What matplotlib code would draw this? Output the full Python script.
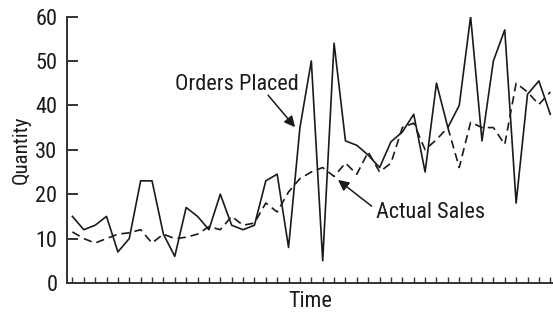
import matplotlib
matplotlib.use('Agg')
import matplotlib.pyplot as plt
from matplotlib import font_manager
import numpy as np

# 订单与实际销售数据
orders_placed = [15, 12, 13, 15, 7, 10, 23, 23, 11, 6,
                 17, 15, 12, 20, 13, 12, 13, 23, 24.5, 8,
                 35, 50, 5, 54, 32, 31, 28.8, 26, 31.8, 34,
                 38, 25, 45, 35, 40, 60, 32, 50, 57, 18,
                 42.5, 45.5, 38]
actual_sales = [11.5, 10, 9, 10, 11, 11.3, 12, 9, 11, 10,
                10.3, 11, 12.7, 12, 15, 13, 13.5, 18, 16, 20.5,
                23.5, 25, 26, 24, 27, 24.5, 29.5, 25, 27, 35,
                36, 30, 32.3, 35, 26, 36.2, 35, 35, 31.2, 45,
                43, 40.2, 43]
y_ticks = [0, 10, 20, 30, 40, 50, 60]

# 找一个窄体字体
names = {f.name for f in font_manager.fontManager.ttflist}
family = 'DejaVu Sans'
for cand in ['Roboto Condensed', 'Archivo Narrow', 'PT Sans Narrow', 'Barlow Semi Condensed']:
    if cand in names:
        family = cand
        break
plt.rcParams['font.family'] = [family, 'DejaVu Sans']

ink = '#1a1a1a'
fig = plt.figure(figsize=(5.53, 3.12), dpi=100)
ax = fig.add_axes([0.1212, 0.093, 0.879, 0.854])

t = np.arange(len(orders_placed))
ax.plot(t, orders_placed, color=ink, lw=1.2)
ax.plot(t, actual_sales, color=ink, lw=1.2, dashes=(5, 3))

ax.set_xlim(-0.47, 42.25)
ax.set_ylim(0, 60)
ax.set_yticks(y_ticks)
ax.set_xticks(t)
ax.set_xticklabels([])

for s in ['top', 'right']:
    ax.spines[s].set_visible(False)
for s in ['left', 'bottom']:
    ax.spines[s].set_linewidth(1.4)
    ax.spines[s].set_color('#333333')

ax.tick_params(axis='y', direction='in', length=8, width=1.4, color='#333333',
               labelsize=16, pad=7, labelcolor=ink)
ax.tick_params(axis='x', direction='in', length=4, width=1, color='#333333')

ax.set_ylabel('Quantity', fontsize=15, color=ink, labelpad=3)
ax.set_xlabel('Time', fontsize=16, color=ink, labelpad=2)

ax.text(14.47, 44.6, 'Orders Placed', fontsize=16, color=ink, ha='center', va='center')
ax.text(31.45, 15.8, 'Actual Sales', fontsize=16, color=ink, ha='center', va='center')

arrow = dict(arrowstyle='-|>', color=ink, lw=1.1, mutation_scale=16, shrinkA=0, shrinkB=0)
ax.annotate('', xy=(19.57, 35.1), xytext=(17.2, 42.3), arrowprops=arrow)
ax.annotate('', xy=(23.35, 23.2), xytext=(26.3, 17.3), arrowprops=arrow)

fig.savefig('out.png', dpi=100)
